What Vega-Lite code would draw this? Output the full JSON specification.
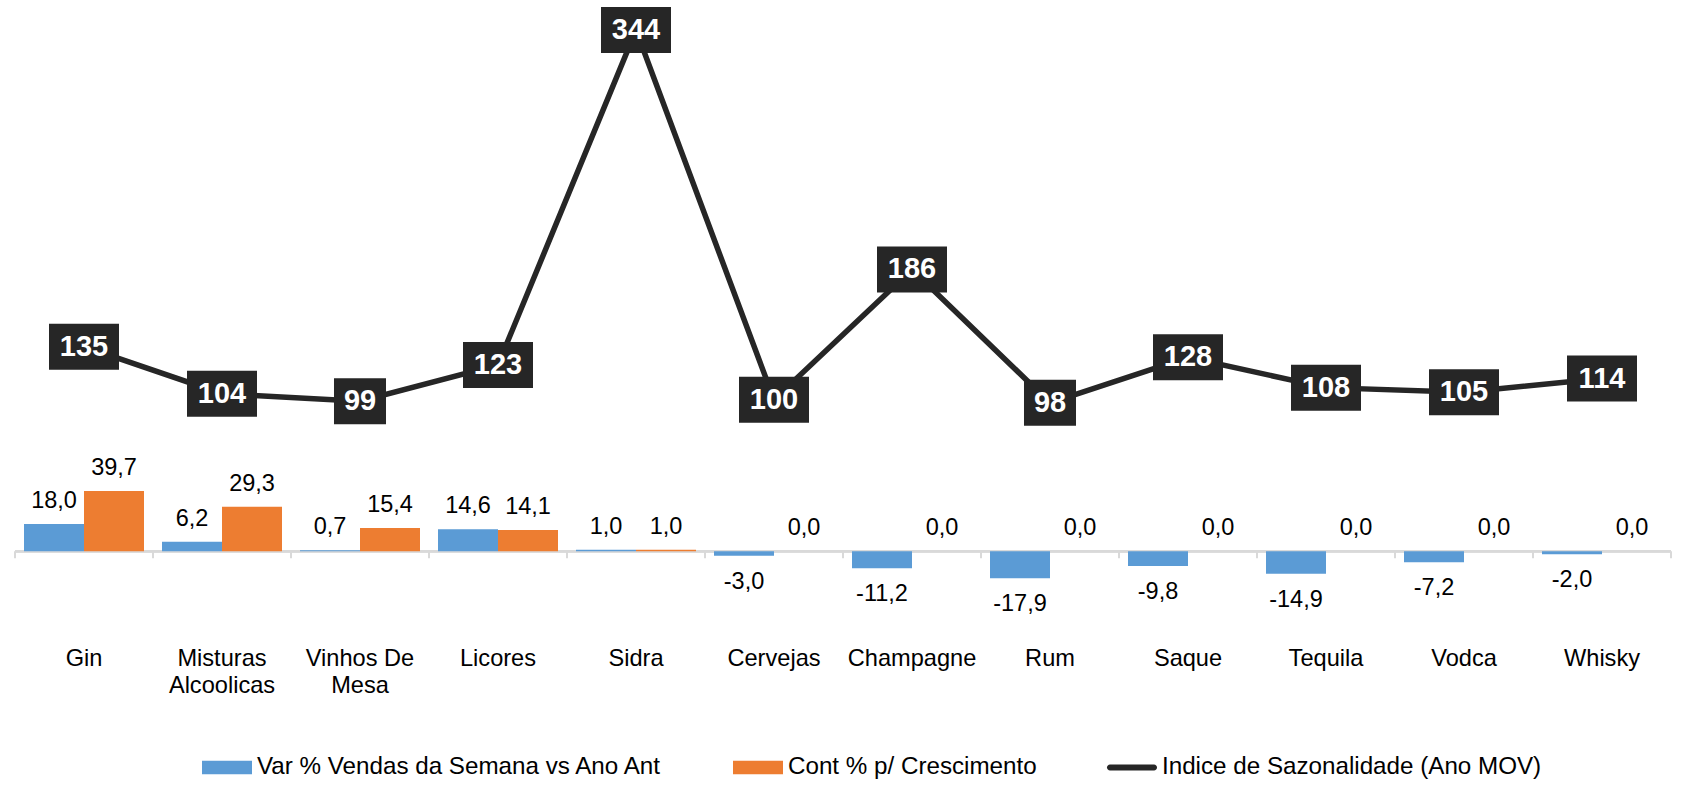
{
  "$schema": "https://vega.github.io/schema/vega-lite/v6.json",
  "width": 1656,
  "height": 606,
  "autosize": {"type": "none"},
  "padding": {"left": 15, "top": 21, "right": 20, "bottom": 158},
  "background": "white",
  "config": {
    "view": {"stroke": null},
    "font": "Liberation Sans",
    "locale": {"number": {"decimal": ",", "thousands": ".", "grouping": [3], "currency": ["", ""], "minus": "-"}}
  },
  "datasets": {
    "barras": [
      {"cat": "Gin", "serie": "Var % Vendas da Semana vs Ano Ant", "valor": 18.0},
      {"cat": "Gin", "serie": "Cont % p/ Crescimento", "valor": 39.7},
      {"cat": "Misturas Alcoolicas", "serie": "Var % Vendas da Semana vs Ano Ant", "valor": 6.2},
      {"cat": "Misturas Alcoolicas", "serie": "Cont % p/ Crescimento", "valor": 29.3},
      {"cat": "Vinhos De Mesa", "serie": "Var % Vendas da Semana vs Ano Ant", "valor": 0.7},
      {"cat": "Vinhos De Mesa", "serie": "Cont % p/ Crescimento", "valor": 15.4},
      {"cat": "Licores", "serie": "Var % Vendas da Semana vs Ano Ant", "valor": 14.6},
      {"cat": "Licores", "serie": "Cont % p/ Crescimento", "valor": 14.1},
      {"cat": "Sidra", "serie": "Var % Vendas da Semana vs Ano Ant", "valor": 1.0},
      {"cat": "Sidra", "serie": "Cont % p/ Crescimento", "valor": 1.0},
      {"cat": "Cervejas", "serie": "Var % Vendas da Semana vs Ano Ant", "valor": -3.0},
      {"cat": "Cervejas", "serie": "Cont % p/ Crescimento", "valor": 0.0},
      {"cat": "Champagne", "serie": "Var % Vendas da Semana vs Ano Ant", "valor": -11.2},
      {"cat": "Champagne", "serie": "Cont % p/ Crescimento", "valor": 0.0},
      {"cat": "Rum", "serie": "Var % Vendas da Semana vs Ano Ant", "valor": -17.9},
      {"cat": "Rum", "serie": "Cont % p/ Crescimento", "valor": 0.0},
      {"cat": "Saque", "serie": "Var % Vendas da Semana vs Ano Ant", "valor": -9.8},
      {"cat": "Saque", "serie": "Cont % p/ Crescimento", "valor": 0.0},
      {"cat": "Tequila", "serie": "Var % Vendas da Semana vs Ano Ant", "valor": -14.9},
      {"cat": "Tequila", "serie": "Cont % p/ Crescimento", "valor": 0.0},
      {"cat": "Vodca", "serie": "Var % Vendas da Semana vs Ano Ant", "valor": -7.2},
      {"cat": "Vodca", "serie": "Cont % p/ Crescimento", "valor": 0.0},
      {"cat": "Whisky", "serie": "Var % Vendas da Semana vs Ano Ant", "valor": -2.0},
      {"cat": "Whisky", "serie": "Cont % p/ Crescimento", "valor": 0.0}
    ],
    "linha": [
      {"cat": "Gin", "indice": 135},
      {"cat": "Misturas Alcoolicas", "indice": 104},
      {"cat": "Vinhos De Mesa", "indice": 99},
      {"cat": "Licores", "indice": 123},
      {"cat": "Sidra", "indice": 344},
      {"cat": "Cervejas", "indice": 100},
      {"cat": "Champagne", "indice": 186},
      {"cat": "Rum", "indice": 98},
      {"cat": "Saque", "indice": 128},
      {"cat": "Tequila", "indice": 108},
      {"cat": "Vodca", "indice": 105},
      {"cat": "Whisky", "indice": 114}
    ]
  },
  "layer": [
    {
      "data": {"name": "linha"},
      "mark": {"type": "rule", "color": "#d9d9d9", "strokeWidth": 2},
      "encoding": {
        "y": {"datum": 0, "type": "quantitative", "scale": {"domain": [-50, 350], "nice": false, "zero": false}, "axis": null}
      }
    },
    {
      "data": {"name": "linha"},
      "mark": {"type": "rule", "color": "#d9d9d9", "strokeWidth": 2},
      "encoding": {
        "x": {"field": "cat", "type": "nominal", "bandPosition": 0, "sort": ["Gin", "Misturas Alcoolicas", "Vinhos De Mesa", "Licores", "Sidra", "Cervejas", "Champagne", "Rum", "Saque", "Tequila", "Vodca", "Whisky"], "scale": {"padding": 0}, "title": null,
          "axis": {"labelFontSize": 23.6, "labelColor": "#000000", "domain": false, "ticks": false, "labelPadding": 19, "labelAngle": 0, "labelLineHeight": 27, "labelLimit": 0, "labelExpr": "datum.value == 'Misturas Alcoolicas' ? ['Misturas', 'Alcoolicas'] : datum.value == 'Vinhos De Mesa' ? ['Vinhos De', 'Mesa'] : datum.label"}},
        "y": {"datum": 0, "type": "quantitative"},
        "y2": {"datum": -4.6}
      }
    },
    {
      "data": {"name": "linha"},
      "transform": [{"filter": "datum.cat == 'Whisky'"}],
      "mark": {"type": "rule", "color": "#d9d9d9", "strokeWidth": 2},
      "encoding": {
        "x": {"field": "cat", "type": "nominal", "bandPosition": 1, "sort": ["Gin", "Misturas Alcoolicas", "Vinhos De Mesa", "Licores", "Sidra", "Cervejas", "Champagne", "Rum", "Saque", "Tequila", "Vodca", "Whisky"], "title": null},
        "y": {"datum": 0, "type": "quantitative"},
        "y2": {"datum": -4.6}
      }
    },
    {
      "data": {"name": "barras"},
      "mark": {"type": "bar"},
      "encoding": {
        "x": {"field": "cat", "type": "nominal", "sort": ["Gin", "Misturas Alcoolicas", "Vinhos De Mesa", "Licores", "Sidra", "Cervejas", "Champagne", "Rum", "Saque", "Tequila", "Vodca", "Whisky"], "title": null},
        "xOffset": {"field": "serie", "type": "nominal", "sort": ["Var % Vendas da Semana vs Ano Ant", "Cont % p/ Crescimento"], "scale": {"paddingOuter": 0.15, "paddingInner": 0}},
        "y": {"field": "valor", "type": "quantitative"},
        "color": {"field": "serie", "type": "nominal",
          "scale": {"domain": ["Var % Vendas da Semana vs Ano Ant", "Cont % p/ Crescimento", "Indice de Sazonalidade (Ano MOV)"], "range": ["#5b9bd5", "#ed7d31", "#262626"]},
          "legend": {"orient": "none", "legendX": 187, "legendY": 721, "direction": "horizontal", "title": null, "labelFontSize": 24.2, "labelColor": "#000000", "labelLimit": 0, "symbolSize": 2500, "symbolStrokeWidth": 0, "columnPadding": 70, "labelOffset": 5,
            "encode": {"symbols": {"update": {
              "shape": {"signal": "datum.value === 'Indice de Sazonalidade (Ano MOV)' ? 'M-0.88,-0.12H0.88A0.12,0.12 0 0 1 0.88,0.12H-0.88A0.12,0.12 0 0 1 -0.88,-0.12Z' : 'M-1,-0.27H1V0.27H-1Z'"},
              "fill": {"scale": "color", "field": "value"},
              "strokeWidth": {"value": 0},
              "opacity": {"value": 1},
              "fillOpacity": {"value": 1}
            }}}
          }
        }
      }
    },
    {
      "data": {"name": "barras"},
      "transform": [{"filter": "datum.valor >= 0"}],
      "mark": {"type": "text", "fontSize": 23.5, "color": "#000000", "baseline": "alphabetic", "dy": -16},
      "encoding": {
        "x": {"field": "cat", "type": "nominal", "sort": ["Gin", "Misturas Alcoolicas", "Vinhos De Mesa", "Licores", "Sidra", "Cervejas", "Champagne", "Rum", "Saque", "Tequila", "Vodca", "Whisky"], "title": null},
        "xOffset": {"field": "serie", "type": "nominal", "sort": ["Var % Vendas da Semana vs Ano Ant", "Cont % p/ Crescimento"]},
        "y": {"field": "valor", "type": "quantitative"},
        "text": {"field": "valor", "type": "quantitative", "format": ".1f"}
      }
    },
    {
      "data": {"name": "barras"},
      "transform": [{"filter": "datum.valor < 0"}],
      "mark": {"type": "text", "fontSize": 23.5, "color": "#000000", "baseline": "alphabetic", "dy": 33},
      "encoding": {
        "x": {"field": "cat", "type": "nominal", "sort": ["Gin", "Misturas Alcoolicas", "Vinhos De Mesa", "Licores", "Sidra", "Cervejas", "Champagne", "Rum", "Saque", "Tequila", "Vodca", "Whisky"], "title": null},
        "xOffset": {"field": "serie", "type": "nominal", "sort": ["Var % Vendas da Semana vs Ano Ant", "Cont % p/ Crescimento"]},
        "y": {"field": "valor", "type": "quantitative"},
        "text": {"field": "valor", "type": "quantitative", "format": ".1f"}
      }
    },
    {
      "data": {"name": "linha"},
      "mark": {"type": "line", "strokeWidth": 5.5},
      "encoding": {
        "x": {"field": "cat", "type": "nominal", "sort": ["Gin", "Misturas Alcoolicas", "Vinhos De Mesa", "Licores", "Sidra", "Cervejas", "Champagne", "Rum", "Saque", "Tequila", "Vodca", "Whisky"], "title": null},
        "y": {"field": "indice", "type": "quantitative"},
        "color": {"datum": "Indice de Sazonalidade (Ano MOV)"}
      }
    },
    {
      "data": {"name": "linha"},
      "mark": {"type": "point", "filled": true, "opacity": 1, "size": 4900, "fill": "#262626", "strokeWidth": 0},
      "encoding": {
        "x": {"field": "cat", "type": "nominal", "sort": ["Gin", "Misturas Alcoolicas", "Vinhos De Mesa", "Licores", "Sidra", "Cervejas", "Champagne", "Rum", "Saque", "Tequila", "Vodca", "Whisky"], "title": null},
        "y": {"field": "indice", "type": "quantitative"},
        "shape": {"condition": {"test": "datum.indice < 100", "value": "M-0.743,-0.657H0.743V0.657H-0.743Z"}, "value": "M-1,-0.657H1V0.657H-1Z"}
      }
    },
    {
      "data": {"name": "linha"},
      "mark": {"type": "text", "fontSize": 29, "fontWeight": "bold", "color": "#ffffff", "baseline": "middle", "align": "center"},
      "encoding": {
        "x": {"field": "cat", "type": "nominal", "sort": ["Gin", "Misturas Alcoolicas", "Vinhos De Mesa", "Licores", "Sidra", "Cervejas", "Champagne", "Rum", "Saque", "Tequila", "Vodca", "Whisky"], "title": null},
        "y": {"field": "indice", "type": "quantitative"},
        "text": {"field": "indice", "type": "quantitative"}
      }
    }
  ]
}
